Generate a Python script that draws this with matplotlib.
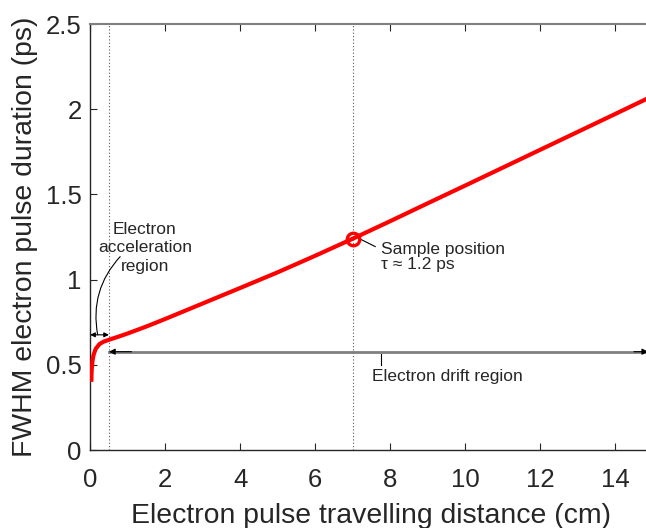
import matplotlib
matplotlib.use("Agg")
import matplotlib.pyplot as plt
import numpy as np

plt.rcParams['font.family'] = ['Liberation Sans', 'DejaVu Sans']

# Pulse duration vs travelling distance
distance_cm = [0.03, 0.035, 0.04, 0.06, 0.08, 0.1, 0.15, 0.25, 0.35, 0.5,
               0.75, 1.0, 1.5, 2.0, 3.0, 4.0, 5.0, 6.0, 7.0, 8.0, 9.0, 10.0,
               11.0, 12.0, 13.0, 14.0, 15.0]
fwhm_ps = [0.40, 0.44, 0.47, 0.52, 0.548, 0.565, 0.595, 0.622, 0.635, 0.647,
           0.665, 0.684, 0.725, 0.769, 0.86, 0.951, 1.043, 1.14, 1.24, 1.343,
           1.448, 1.552, 1.657, 1.762, 1.867, 1.972, 2.078]

accel_end = 0.5
sample_x = 7.0
sample_tau = 1.24

x_ticks = [0, 2, 4, 6, 8, 10, 12, 14]
y_ticks = [0, 0.5, 1, 1.5, 2, 2.5]
y_ticklabels = ['0', '0.5', '1', '1.5', '2', '2.5']

txt = '#262626'

fig = plt.figure(figsize=(6.46, 5.28), dpi=100)
ax = fig.add_axes([0.1396, 0.1477, 0.8708, 0.8068])

ax.plot(distance_cm, fwhm_ps, color='#ff0000', lw=3, solid_capstyle='butt', zorder=4)
ax.plot([sample_x], [sample_tau], 'o', mfc='none', mec='#ff0000', mew=2.4,
        ms=9, zorder=5)

# region boundaries
for xv in (accel_end, sample_x):
    ax.plot([xv, xv], [0, 2.5], color='#555555', lw=0.8, ls=(0, (1, 2)), zorder=2)

# acceleration region double arrow
ax.annotate('', xy=(0, 0.676), xytext=(accel_end, 0.676),
            arrowprops=dict(arrowstyle='<|-|>', color='black', lw=0.8,
                            mutation_scale=7, shrinkA=0, shrinkB=0))
ax.text(1.46, 1.186, 'Electron\nacceleration\nregion', ha='center', va='center',
        fontsize=12.5, color=txt, linespacing=1.3)
ax.annotate('', xy=(0.2, 0.676), xytext=(0.8, 1.135),
            arrowprops=dict(arrowstyle='-', color='black', lw=0.8,
                            connectionstyle='arc3,rad=0.25',
                            shrinkA=0, shrinkB=0))

# drift region arrow
ax.plot([accel_end, 14.85], [0.577, 0.577], color='#808080', lw=2, zorder=3)
ax.annotate('', xy=(accel_end, 0.577), xytext=(accel_end + 0.6, 0.577),
            arrowprops=dict(arrowstyle='-|>', color='black', lw=0.8,
                            mutation_scale=9, shrinkA=0, shrinkB=0), zorder=4)
ax.annotate('', xy=(14.88, 0.577), xytext=(14.5, 0.577),
            arrowprops=dict(arrowstyle='-|>', color='black', lw=0.8,
                            mutation_scale=9, shrinkA=0, shrinkB=0), zorder=4)
ax.plot([7.76, 7.76], [0.565, 0.50], color='black', lw=0.8)
ax.text(7.52, 0.43, 'Electron drift region', ha='left', va='center',
        fontsize=12.5, color=txt)

# sample position
ax.plot([7.2, 7.6], [1.238, 1.194], color='black', lw=0.8)
ax.text(7.75, 1.178, 'Sample position', ha='left', va='center',
        fontsize=12.5, color=txt)
ax.text(7.75, 1.091, 'τ ≈ 1.2 ps', ha='left', va='center',
        fontsize=12.5, color=txt)

ax.set_xlim(0, 15)
ax.set_ylim(0, 2.5)
ax.set_xticks(x_ticks)
ax.set_xticklabels([str(v) for v in x_ticks])
ax.set_yticks(y_ticks)
ax.set_yticklabels(y_ticklabels)
ax.tick_params(direction='in', length=5, width=0.8, labelsize=18.5,
               colors=txt, top=True, right=False, pad=6)
ax.tick_params(axis='x', pad=13)
ax.spines['right'].set_visible(False)
ax.spines['top'].set_color('#808080')
ax.spines['top'].set_linewidth(1.5)
for s in ('left', 'bottom'):
    ax.spines[s].set_color(txt)
    ax.spines[s].set_linewidth(1.0)

ax.set_xlabel('Electron pulse travelling distance (cm)', fontsize=20.4,
              color=txt, labelpad=8)
ax.set_ylabel('FWHM electron pulse duration (ps)', fontsize=20.4,
              color=txt, labelpad=6)

fig.savefig('out.png', dpi=100)
